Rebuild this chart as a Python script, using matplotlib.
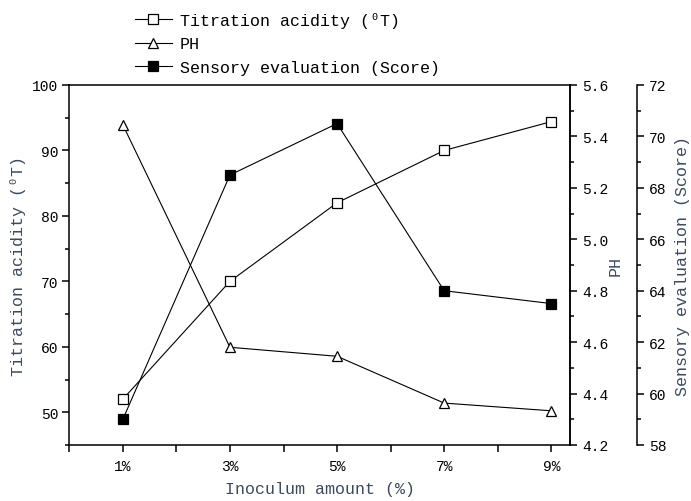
import matplotlib
matplotlib.use('Agg')
import matplotlib.pyplot as plt
from matplotlib.lines import Line2D
from matplotlib.ticker import FixedLocator, MultipleLocator

plt.rcParams['font.family'] = ['Liberation Mono', 'DejaVu Sans Mono']

# data
inoculum = [1, 3, 5, 7, 9]
x_labels = ['1%', '3%', '5%', '7%', '9%']
acidity = [52, 70, 82, 90, 94.4]
ph = [5.445, 4.58, 4.545, 4.363, 4.333]
sensory = [59.0, 68.5, 70.5, 64.0, 63.5]

label_color = '#3d4a5c'
tick_size = 10.5
W, H = 691, 502
fig = plt.figure(figsize=(W / 100, H / 100), dpi=100)
ax = fig.add_axes([69.3 / W, 1 - 446 / H, (570 - 69.3) / W, (446 - 86) / H])
ax2 = ax.twinx()
ax3 = ax.twinx()

line_kw = dict(color='black', lw=0.8, markeredgecolor='black', markeredgewidth=0.9)
ax.plot(inoculum, acidity, marker='s', ms=6.5, mfc='white', **line_kw)
ax2.plot(inoculum, ph, marker='^', ms=7.5, mfc='white', **line_kw)
ax3.plot(inoculum, sensory, marker='s', ms=6.8, mfc='black', **line_kw)

# main axis
ax.set_xlim(0, 9.35)
ax.set_ylim(45, 100)
ax.xaxis.set_major_locator(FixedLocator(inoculum))
ax.xaxis.set_minor_locator(FixedLocator([0, 2, 4, 6, 8]))
ax.set_xticklabels(x_labels)
ax.yaxis.set_major_locator(FixedLocator([50, 60, 70, 80, 90, 100]))
ax.yaxis.set_minor_locator(FixedLocator([45, 55, 65, 75, 85, 95]))
ax.tick_params(axis='x', which='both', direction='out', length=5, width=1.1, pad=5, labelsize=tick_size)
ax.tick_params(axis='y', which='major', direction='out', length=5, width=1.1, pad=3, labelsize=tick_size)
ax.tick_params(axis='y', which='minor', direction='out', length=3, width=1.1)
ax.set_xlabel('Inoculum amount (%)', fontsize=12, color=label_color, labelpad=6)
ax.set_ylabel('Titration acidity (\u2070T)', fontsize=12, color=label_color, va='center')
ax.yaxis.set_label_coords((18 - 69.3) / (570 - 69.3), 0.5)
for s in ax.spines.values():
    s.set_linewidth(1.1)

# PH axis
ax2.set_ylim(4.2, 5.6)
ax2.yaxis.set_major_locator(MultipleLocator(0.2))
ax2.yaxis.set_minor_locator(MultipleLocator(0.1))
ax2.yaxis.set_major_formatter(lambda v, p: f'{v:.1f}')
ax2.tick_params(axis='y', which='major', direction='out', length=5, width=1.1, pad=4, labelsize=tick_size)
ax2.tick_params(axis='y', which='minor', direction='out', length=3, width=1.1)
ax2.set_ylabel('PH', fontsize=12, color=label_color, va='center')
ax2.yaxis.set_label_coords((615 - 69.3) / (570 - 69.3), 0.5)
for s in ax2.spines.values():
    s.set_visible(False)
ax2.spines['right'].set_visible(True)
ax2.spines['right'].set_linewidth(1.1)

# sensory axis
ax3.spines['right'].set_position(('axes', (636.7 - 69.3) / (570 - 69.3)))
for s in ax3.spines.values():
    s.set_visible(False)
ax3.spines['right'].set_visible(True)
ax3.spines['right'].set_linewidth(1.1)
ax3.set_ylim(58, 72)
ax3.yaxis.set_major_locator(MultipleLocator(2))
ax3.yaxis.set_minor_locator(MultipleLocator(1))
ax3.tick_params(axis='y', which='major', direction='out', length=5, width=1.1, pad=4, labelsize=tick_size)
ax3.tick_params(axis='y', which='minor', direction='out', length=3, width=1.1)
ax3.set_ylabel('Sensory evaluation (Score)', fontsize=12, color=label_color, va='center')
ax3.yaxis.set_label_coords((683 - 69.3) / (570 - 69.3), 0.5)

# legend at the top
handles = [
    Line2D([], [], marker='s', ms=6.5, mfc='white', **line_kw),
    Line2D([], [], marker='^', ms=7.5, mfc='white', **line_kw),
    Line2D([], [], marker='s', ms=6.8, mfc='black', **line_kw),
]
names = ['Titration acidity (\u2070T)', 'PH', 'Sensory evaluation (Score)']
fig.legend(handles, names, loc='upper left', bbox_to_anchor=(135 / W, 1 - 13 / H),
           frameon=False, fontsize=12, handlelength=2.2, handletextpad=0.5,
           labelspacing=0.5, borderpad=0, borderaxespad=0)

fig.savefig('out.png', dpi=100)
